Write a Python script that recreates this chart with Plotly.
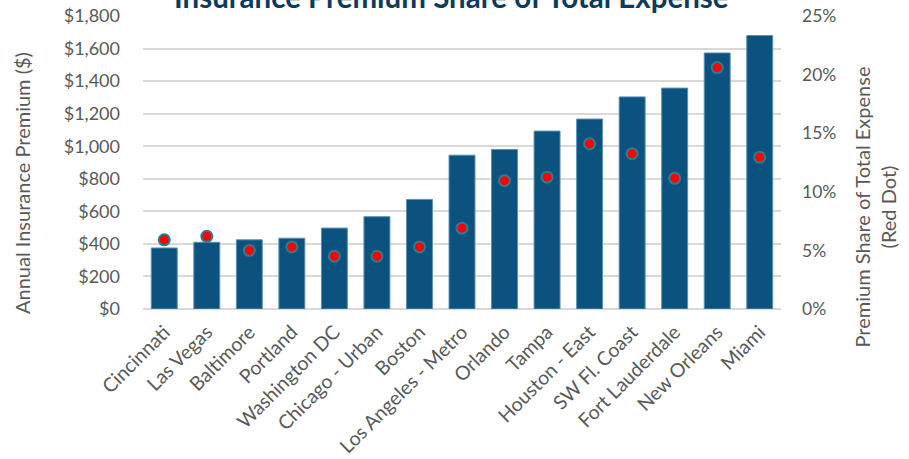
import plotly.graph_objects as go

# City premium data
cities = ["Cincinnati", "Las Vegas", "Baltimore", "Portland", "Washington DC",
          "Chicago - Urban", "Boston", "Los Angeles - Metro", "Orlando", "Tampa",
          "Houston - East", "SW Fl. Coast", "Fort Lauderdale", "New Orleans", "Miami"]
premium = [375, 410, 425, 435, 497, 567, 673, 945, 980, 1093, 1167, 1303, 1357, 1573, 1680]
share_pct = [5.9, 6.2, 5.0, 5.3, 4.5, 4.5, 5.3, 6.9, 10.95, 11.25, 14.1, 13.25, 11.15, 20.6, 12.95]

left_ticks = list(range(0, 1801, 200))
right_ticks = [0, 5, 10, 15, 20, 25]

FONT = "Lato"
GRAY = "#595959"

# plot area in pixels
L, R, T, B = 143, 781, 16, 309
PW, PH = R - L, B - T


def px_x(x):
    return (x - L) / PW


def px_y(y):
    return (B - y) / PH


fig = go.Figure()
fig.add_trace(go.Bar(
    x=cities, y=premium, name="Annual Insurance Premium",
    marker=dict(color="#0b527e", line=dict(color="#5a90b4", width=1)),
    yaxis="y",
))
fig.add_trace(go.Scatter(
    x=cities, y=share_pct, name="Premium Share", mode="markers",
    marker=dict(color="#ff0000", size=11, line=dict(color="#2a7e8e", width=2)),
    yaxis="y2",
))

fig.update_layout(
    width=909, height=459,
    margin=dict(l=L, r=909 - R, t=T, b=459 - B),
    paper_bgcolor="white", plot_bgcolor="white",
    showlegend=False, bargap=0.39,
    font=dict(family=FONT, color=GRAY, size=17),
    xaxis=dict(tickangle=-45, showgrid=False, tickfont=dict(size=19.5, color=GRAY),
               range=[-0.5, len(cities) - 0.5],
               showline=False, ticks="", automargin=False, ticklabelstandoff=7),
    yaxis=dict(range=[0, 1800], tickvals=left_ticks,
               ticktext=[f"${v:,}" for v in left_ticks],
               tickfont=dict(size=18, color=GRAY),
               gridcolor="#d9d9d9", gridwidth=2, zeroline=True,
               zerolinecolor="#d9d9d9", zerolinewidth=2,
               ticklabelstandoff=22, automargin=False),
    yaxis2=dict(range=[0, 25], tickvals=right_ticks,
                ticktext=[f"{v}%" for v in right_ticks],
                tickfont=dict(size=17.5, color=GRAY),
                overlaying="y", side="right", showgrid=False, zeroline=False,
                ticklabelstandoff=20, automargin=False),
    annotations=[
        dict(text="<b>Insurance Premium Share of Total Expense</b>",
             xref="paper", yref="paper", x=px_x(451), y=px_y(-3),
             xanchor="center", yanchor="middle", showarrow=False,
             font=dict(size=29.5, color="#0e3a5c", family=FONT)),
        dict(text="Annual Insurance Premium ($)", textangle=-90,
             xref="paper", yref="paper", x=px_x(22), y=px_y(183),
             xanchor="center", yanchor="middle", showarrow=False,
             font=dict(size=20, color=GRAY, family=FONT)),
        dict(text="Premium Share of Total Expense<br>(Red Dot)", textangle=-90,
             xref="paper", yref="paper", x=px_x(874.5), y=px_y(207),
             xanchor="center", yanchor="middle", showarrow=False,
             font=dict(size=20, color=GRAY, family=FONT)),
    ],
)

fig.write_html("out.html")
